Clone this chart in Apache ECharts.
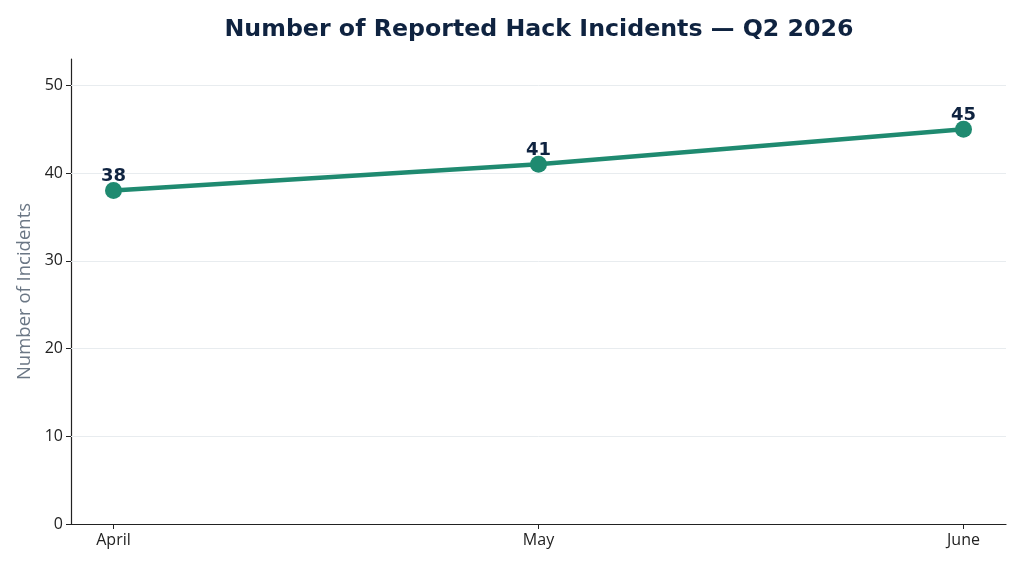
<!DOCTYPE html>
<html><head><meta charset="utf-8">
<script src="https://cdn.jsdelivr.net/npm/echarts@6/dist/echarts.min.js"></script>
<style>html,body{margin:0;padding:0;background:#fff}#c{width:1024px;height:569px}</style>
</head><body><div id="c"></div>
<script>
const categories = ['April', 'May', 'June'];
const incidents = [38, 41, 45];
const yTicks = [0, 10, 20, 30, 40, 50];

const chart = echarts.init(document.getElementById('c'), null, {renderer: 'canvas'});
const idx = categories.map((_, i) => i);
chart.setOption({
  animation: false,
  backgroundColor: '#ffffff',
  title: {
    text: 'Number of Reported Hack Incidents \u2014 Q2 2026',
    left: 534, top: 13, textAlign: 'center',
    textStyle: {fontFamily: 'DejaVu Sans', fontWeight: 'bold', fontSize: 23.7, color: '#0f2340'}
  },
  grid: {left: 71, right: 18, top: 59, bottom: 45},
  xAxis: {
    type: 'value', min: -0.1, max: 2.1,
    axisLine: {show: true, onZero: false, lineStyle: {color: '#222', width: 1.2}},
    axisTick: {show: true, customValues: idx, length: 5, lineStyle: {color: '#222'}},
    axisLabel: {customValues: idx, formatter: v => categories[Math.round(v)], fontFamily: 'Open Sans', fontSize: 16, color: '#222', margin: 8},
    splitLine: {show: false}
  },
  yAxis: {
    type: 'value', min: 0, max: 53,
    name: 'Number of Incidents', nameLocation: 'middle', nameGap: 36,
    nameTextStyle: {fontFamily: 'Open Sans', fontSize: 18.5, color: '#6b7785'},
    axisLine: {show: true, onZero: false, lineStyle: {color: '#222', width: 1.2}},
    axisTick: {show: true, customValues: yTicks, length: 5, lineStyle: {color: '#222'}},
    axisLabel: {customValues: yTicks, fontFamily: 'Open Sans', fontSize: 16, color: '#222', margin: 8},
    splitLine: {show: false}
  },
  series: [{
    type: 'line', data: [], silent: true, z: 1,
    markLine: {
      z: 1, silent: true, symbol: 'none', label: {show: false},
      lineStyle: {color: '#e8ecef', width: 1, type: 'solid'},
      data: yTicks.filter(t => t > 0).map(t => ({yAxis: t}))
    }
  }, {
    type: 'line',
    data: incidents.map((v, i) => [i, v]),
    lineStyle: {color: '#1f8a70', width: 4.5},
    itemStyle: {color: '#1f8a70'},
    symbol: 'circle', symbolSize: 17,
    label: {show: true, position: 'top', distance: -3.5, fontFamily: 'DejaVu Sans', fontWeight: 'bold', fontSize: 18, color: '#0f2340'},
    z: 10
  }]
});
</script></body></html>
